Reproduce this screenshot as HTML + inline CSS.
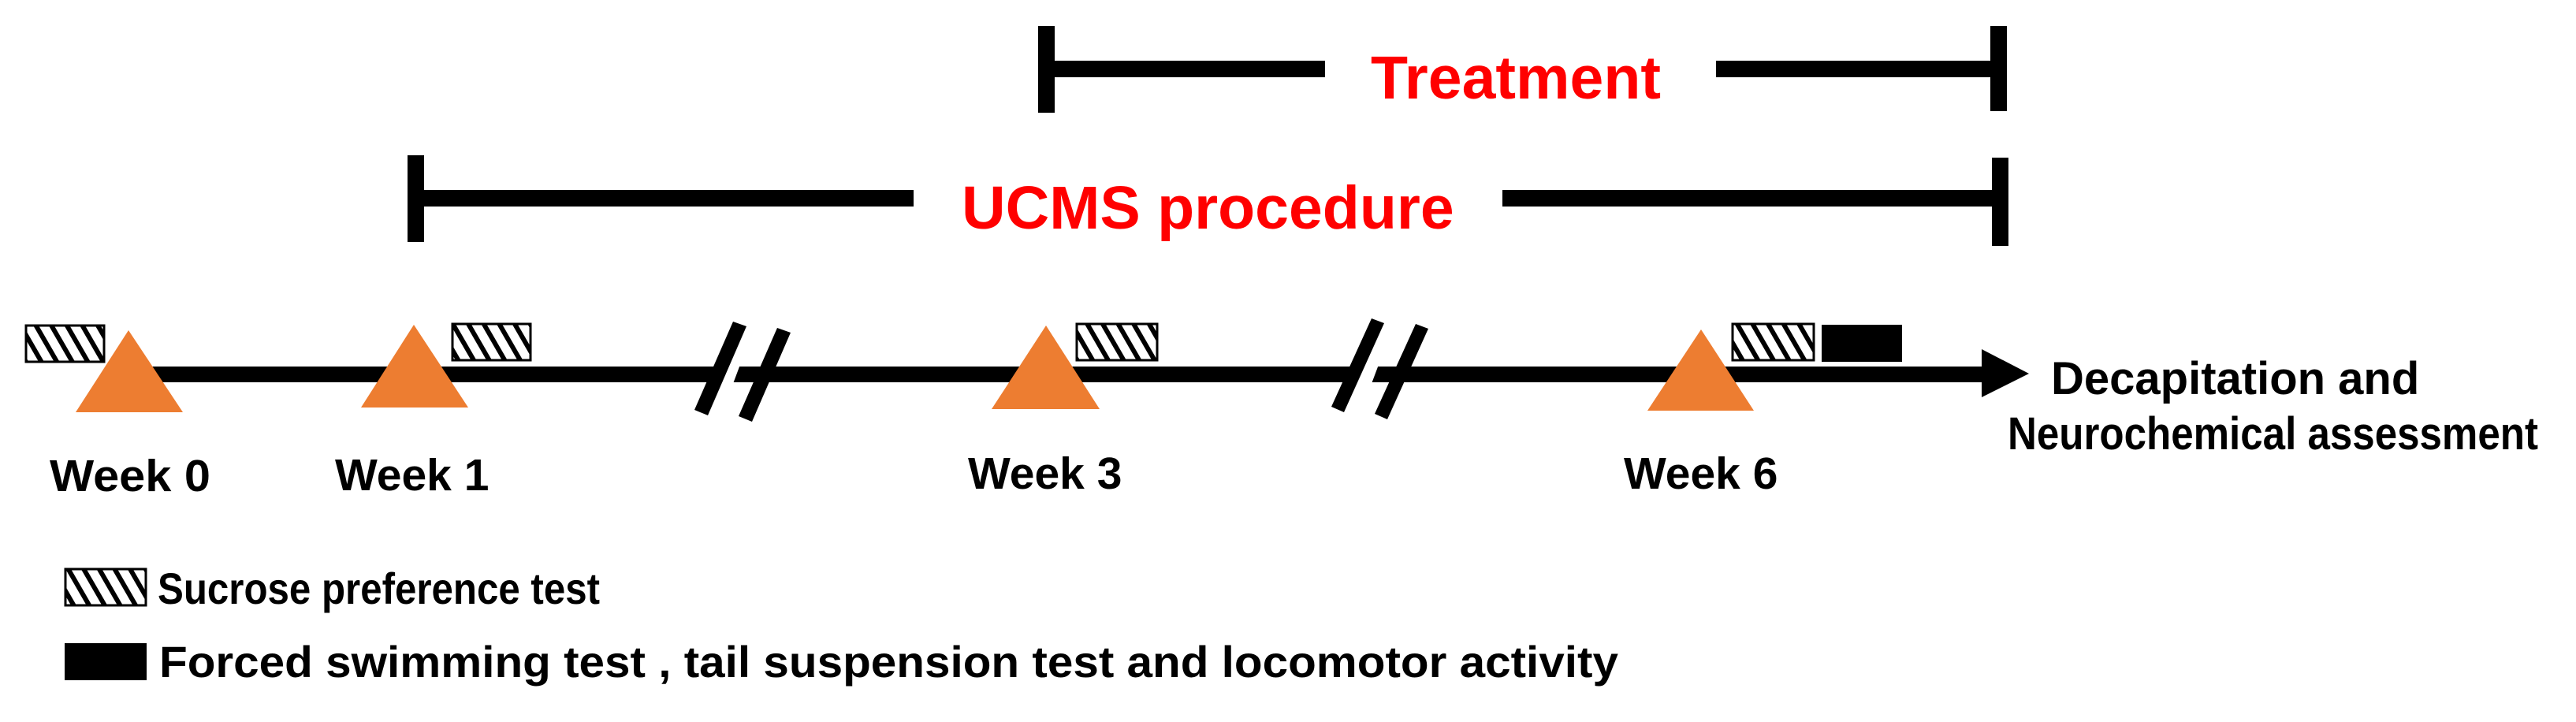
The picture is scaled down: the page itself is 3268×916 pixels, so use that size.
<!DOCTYPE html>
<html><head><meta charset="utf-8"><style>
html,body{margin:0;padding:0;background:#fff;}
svg{display:block;}
text{font-family:"Liberation Sans",Arial,sans-serif;font-weight:bold;}
</style></head><body>
<svg width="3268" height="916" viewBox="0 0 3268 916" xmlns="http://www.w3.org/2000/svg">
<defs>
<pattern id="h" patternUnits="userSpaceOnUse" width="17" height="17" patternTransform="rotate(-30)">
<rect width="17" height="17" fill="#fff"/>
<rect x="0" y="0" width="6" height="17" fill="#000"/>
</pattern>
</defs>

<!-- Treatment -->
<rect x="1317" y="33" width="21" height="110" fill="#000"/>
<rect x="1327" y="77" width="354" height="21" fill="#000"/>
<rect x="2177" y="77" width="358" height="21" fill="#000"/>
<rect x="2525" y="33" width="21" height="108" fill="#000"/>
<text x="1739" y="125" font-size="77" fill="#ff0000">Treatment</text>

<!-- UCMS -->
<rect x="517" y="197" width="21" height="110" fill="#000"/>
<rect x="527" y="241" width="632" height="21" fill="#000"/>
<rect x="1906" y="241" width="630" height="21" fill="#000"/>
<rect x="2527" y="200" width="21" height="112" fill="#000"/>
<text x="1220" y="290" font-size="77" fill="#ff0000">UCMS procedure</text>

<!-- main line -->
<rect x="150" y="465" width="2370" height="20" fill="#000"/>
<polygon points="2514,443 2574,474 2514,504" fill="#000"/>

<!-- breaks -->
<polygon points="915,460 940,460 925,500 900,500" fill="#fff"/>
<polygon points="881,520 930,408 947,414 898,527" fill="#000"/>
<polygon points="937,528 986,416 1003,422 954,535" fill="#000"/>
<polygon points="1722,460 1750,460 1735,500 1707,500" fill="#fff"/>
<polygon points="1689,516 1740,404 1756,410 1705,523" fill="#000"/>
<polygon points="1744,525 1796,411 1812,417 1760,532" fill="#000"/>

<!-- hatch boxes -->
<rect x="33" y="413" width="99" height="46" fill="url(#h)" stroke="#000" stroke-width="3"/>
<rect x="574" y="411" width="99" height="46" fill="url(#h)" stroke="#000" stroke-width="3"/>
<rect x="1366" y="411" width="102" height="46" fill="url(#h)" stroke="#000" stroke-width="3"/>
<rect x="2198" y="411" width="103" height="46" fill="url(#h)" stroke="#000" stroke-width="3"/>
<rect x="2311" y="412" width="102" height="47" fill="#000"/>

<!-- triangles -->
<polygon points="163,419 96,523 232,523" fill="#ed7d31"/>
<polygon points="525,412 458,517 594,517" fill="#ed7d31"/>
<polygon points="1327,413 1258,519 1395,519" fill="#ed7d31"/>
<polygon points="2158,418 2090,521 2225,521" fill="#ed7d31"/>

<!-- week labels -->
<text x="63" y="623" font-size="57" fill="#000" textLength="204" lengthAdjust="spacingAndGlyphs">Week 0</text>
<text x="425" y="622" font-size="57" fill="#000">Week 1</text>
<text x="1228" y="620" font-size="57" fill="#000">Week 3</text>
<text x="2060" y="620" font-size="57" fill="#000">Week 6</text>

<text x="2602" y="500" font-size="58" fill="#000">Decapitation and</text>
<text x="2547" y="570" font-size="58" fill="#000" textLength="673" lengthAdjust="spacingAndGlyphs">Neurochemical assessment</text>

<!-- legend -->
<rect x="83" y="722" width="102" height="46" fill="url(#h)" stroke="#000" stroke-width="3"/>
<text x="200" y="766" font-size="56" fill="#000" textLength="561" lengthAdjust="spacingAndGlyphs">Sucrose preference test</text>
<rect x="82" y="816" width="104" height="47" fill="#000"/>
<text x="202" y="859" font-size="56" fill="#000" textLength="1851" lengthAdjust="spacingAndGlyphs">Forced swimming test , tail suspension test and locomotor activity</text>
</svg>
</body></html>
